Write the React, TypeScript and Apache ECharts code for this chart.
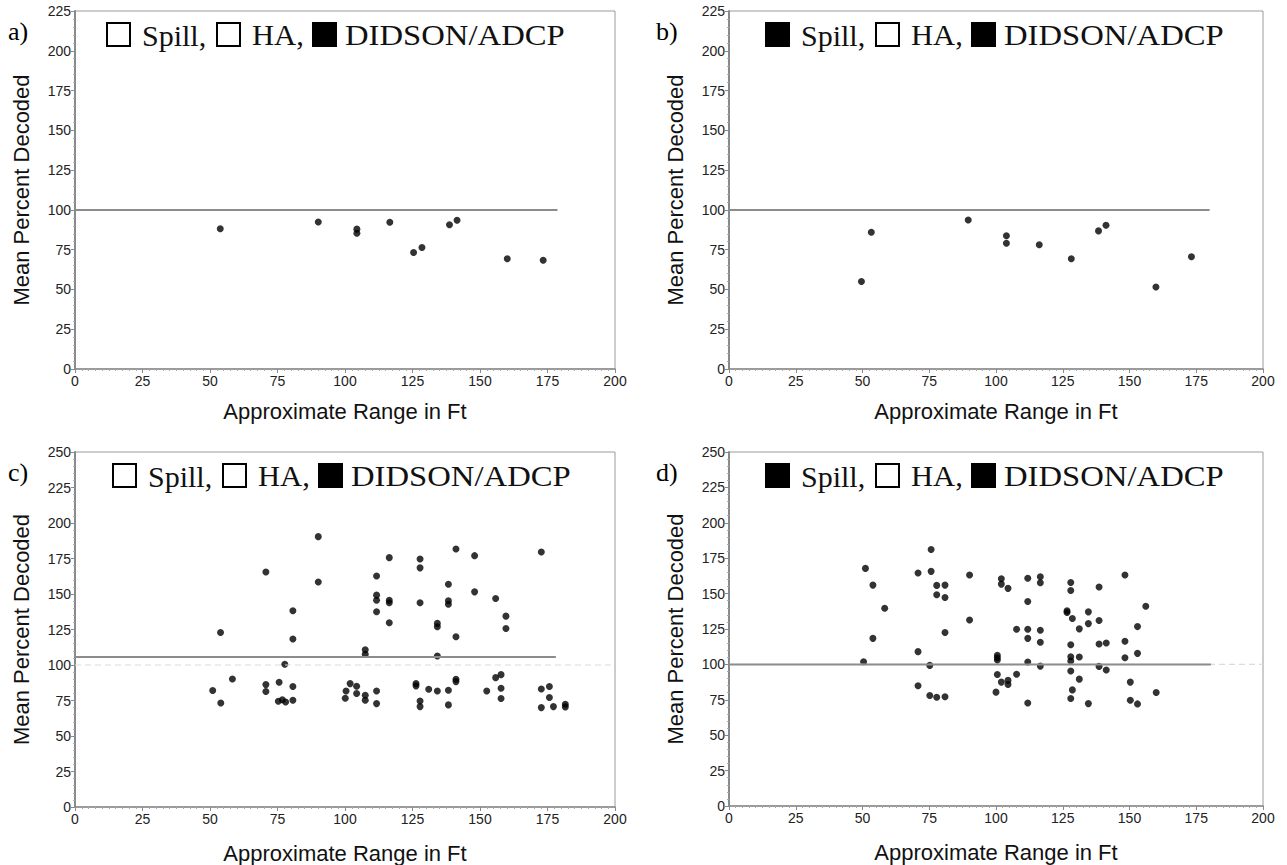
import React, { useEffect, useRef } from "react";
import * as echarts from "echarts";

// ---- Data (Approximate Range in Ft, Mean Percent Decoded) ----
const panelA: number[][] = [
  [53.8, 88.1], [90.1, 92.4], [104.4, 87.9], [104.4, 85.3], [116.6, 92.2],
  [125.4, 73.2], [128.5, 76.4], [138.7, 90.7], [141.5, 93.5], [160.1, 69.3], [173.4, 68.4],
];
const panelB: number[][] = [
  [49.6, 55.0], [53.3, 85.9], [89.6, 93.7], [103.9, 83.8], [103.9, 79.0], [116.2, 78.1],
  [128.2, 69.3], [138.4, 86.8], [141.2, 90.3], [159.9, 51.5], [173.2, 70.6],
];
const panelC: number[][] = [
  [90.1, 190.4], [70.7, 165.5], [90.1, 158.5], [80.7, 138.2], [53.9, 122.9], [80.7, 118.3],
  [77.7, 100.5], [58.3, 90.2], [51.0, 82.0], [54.0, 73.3], [70.7, 86.2], [70.7, 81.3],
  [75.6, 87.8], [80.7, 84.8], [80.7, 75.2], [75.3, 74.5], [76.8, 75.5], [78.0, 74.0],
  [100.1, 76.6], [100.4, 81.7], [101.9, 86.9], [104.3, 85.0], [104.3, 79.9], [107.5, 78.7],
  [107.5, 75.2], [107.5, 110.8], [107.5, 107.5], [111.7, 162.7], [111.7, 149.2], [111.7, 145.6],
  [111.7, 137.5], [111.7, 81.7], [111.7, 72.8], [116.4, 175.6], [116.4, 145.6], [116.4, 143.8],
  [116.4, 129.7], [126.3, 86.9], [126.3, 85.3], [127.8, 174.7], [127.8, 168.4], [127.8, 143.8],
  [127.8, 74.7], [127.8, 70.7], [131.0, 82.9], [134.2, 129.3], [134.2, 126.9], [134.2, 106.3],
  [134.2, 81.7], [138.3, 156.9], [138.3, 145.2], [138.3, 142.8], [138.3, 82.2], [138.3, 71.9],
  [141.1, 181.7], [141.1, 119.9], [141.1, 89.9], [141.1, 88.3], [148.0, 177.0], [148.0, 151.5],
  [152.5, 81.7], [155.8, 146.8], [155.8, 91.1], [157.8, 93.2], [157.8, 83.6], [157.8, 76.4],
  [159.6, 134.4], [159.6, 125.7], [172.7, 179.6], [172.7, 83.1], [172.7, 70.0], [175.7, 84.8],
  [175.7, 77.1], [177.2, 70.7], [181.6, 72.4], [181.6, 70.5],
];
const panelD: number[][] = [
  [75.7, 181.1], [51.1, 167.8], [70.8, 164.5], [75.7, 165.7], [90.1, 163.1], [53.9, 156.0],
  [77.8, 155.8], [80.9, 156.0], [77.8, 149.2], [80.9, 147.3], [58.3, 139.7], [90.1, 131.4],
  [80.9, 122.5], [53.9, 118.4], [70.8, 109.0], [50.4, 101.9], [75.2, 99.3], [70.8, 84.9],
  [75.2, 78.0], [77.8, 76.8], [80.9, 77.1],
  [102.0, 160.5], [102.0, 156.7], [104.5, 153.7], [111.9, 160.8], [116.6, 161.9], [116.6, 157.7],
  [111.9, 144.4], [107.7, 124.8], [111.9, 124.8], [116.6, 124.1], [111.9, 118.4], [116.6, 115.6],
  [100.5, 106.4], [100.5, 104.7], [100.5, 103.1], [111.9, 101.7], [116.6, 98.8], [100.5, 92.9],
  [107.7, 93.1], [102.0, 87.5], [104.5, 88.7], [104.5, 85.8], [100.0, 80.4], [111.9, 72.8],
  [128.0, 157.9], [128.0, 152.2], [126.6, 137.8], [126.6, 136.6], [128.6, 132.4], [134.6, 137.1],
  [131.2, 125.1], [134.6, 128.8], [138.6, 154.6], [138.6, 131.0], [128.0, 113.9], [138.6, 114.4],
  [141.3, 115.1], [128.0, 105.4], [128.0, 102.4], [131.2, 105.2], [128.0, 95.3], [138.6, 98.6],
  [141.3, 96.0], [131.2, 89.6], [128.6, 82.0], [128.0, 75.9], [134.6, 72.3], [148.3, 163.1],
  [156.1, 141.1], [153.0, 126.7], [148.3, 116.3], [153.0, 107.8], [148.3, 104.7], [150.3, 87.5],
  [160.0, 80.1], [150.3, 74.7], [153.0, 72.1],
];
// reference lines (solid) and light dashed 100% lines
const refA: number[][] = [[0, 100], [178.7, 100]];
const refB: number[][] = [[0, 100], [180, 100]];
const refC: number[][] = [[0, 105.6], [178.1, 105.6]];
const refD: number[][] = [[0, 100], [180.5, 100]];
const dash100: number[][] = [[0, 100], [200, 100]];

const yMaxTop = 225;
const yMaxBottom = 250;
const panelLabels = ["a)", "b)", "c)", "d)"];
// legend fill states: Spill, HA, DIDSON/ADCP
const legendFill: boolean[][] = [
  [false, false, true],
  [true, false, true],
  [false, false, true],
  [true, false, true],
];
const legendNames = ["Spill,", "HA,", "DIDSON/ADCP"];

const grids = [
  { left: 75, top: 11, width: 540, height: 358 },
  { left: 729, top: 11, width: 534, height: 358 },
  { left: 75, top: 452, width: 540, height: 355 },
  { left: 729, top: 452, width: 534, height: 354 },
];

export default function App() {
  const ref = useRef<HTMLDivElement>(null);
  useEffect(() => {
    if (!ref.current) return;
    const chart = echarts.init(ref.current, undefined, { renderer: "svg" });
    const sans = "Liberation Sans, Arial, sans-serif";
    const serif = "Liberation Serif, Times New Roman, serif";
    const axisColor = "#8a8a8a";

    const xAxis = grids.map((_, i) => ({
      gridIndex: i,
      type: "value",
      min: 0,
      max: 200,
      interval: 25,
      name: "Approximate Range in Ft",
      nameLocation: "middle",
      nameGap: i < 2 ? 31 : 35,
      nameTextStyle: { fontFamily: sans, fontSize: 22, color: "#111" },
      axisLine: { show: true, lineStyle: { color: axisColor, width: 1.5 } },
      axisTick: { show: true, length: 4, lineStyle: { color: axisColor } },
      minorTick: { show: true, splitNumber: 10, length: 2, lineStyle: { color: "#aaa" } },
      axisLabel: { fontFamily: sans, fontSize: 14, color: "#222", margin: 5 },
      splitLine: { show: false },
    }));
    const yAxis = grids.map((_, i) => ({
      gridIndex: i,
      type: "value",
      min: 0,
      max: i < 2 ? yMaxTop : yMaxBottom,
      interval: 25,
      name: "Mean Percent Decoded",
      nameLocation: "middle",
      nameGap: 43,
      nameTextStyle: { fontFamily: sans, fontSize: 22, color: "#111" },
      axisLine: { show: true, lineStyle: { color: axisColor, width: 2 } },
      axisTick: { show: true, length: 4, lineStyle: { color: axisColor } },
      minorTick: { show: true, splitNumber: 5, length: 2, lineStyle: { color: "#aaa" } },
      axisLabel: { fontFamily: sans, fontSize: 14, color: "#222", margin: 4 },
      splitLine: { show: false },
    }));

    const datas = [panelA, panelB, panelC, panelD];
    const refs = [refA, refB, refC, refD];
    const series: any[] = [];
    datas.forEach((d, i) => {
      if (i >= 2) {
        series.push({
          type: "line", xAxisIndex: i, yAxisIndex: i, data: dash100, showSymbol: false, silent: true,
          lineStyle: { color: "#dcdcdc", width: 1.2, type: [6, 4] },
        });
      }
      series.push({
        type: "line", xAxisIndex: i, yAxisIndex: i, data: refs[i], showSymbol: false, silent: true,
        lineStyle: { color: "#8c8c8c", width: 2 },
      });
      series.push({
        type: "scatter", xAxisIndex: i, yAxisIndex: i, data: d, symbol: "circle", symbolSize: 7,
        itemStyle: { color: "#000" },
      });
    });

    const graphic: any[] = [];
    const legendStart = [32, 37, 38, 37];
    grids.forEach((g, i) => {
      const cy = g.top + 23;
      const x0 = g.left + legendStart[i];
      const boxX = [x0, x0 + 110, x0 + 206];
      const textX = [x0 + 35, x0 + 145, x0 + 238];
      const sx = [1, 1.02, 1.09];
      legendFill[i].forEach((filled, k) => {
        graphic.push({
          type: "rect",
          shape: { x: boxX[k], y: cy - 11, width: 23, height: 23 },
          style: { fill: filled ? "#000" : "#fff", stroke: "#000", lineWidth: 2 },
        });
        graphic.push({
          type: "text",
          x: textX[k],
          y: cy + 1,
          scaleX: sx[k],
          style: {
            text: legendNames[k], font: `30px ${serif}`, fill: "#111",
            textVerticalAlign: "middle", textAlign: "left",
          },
        });
      });
      graphic.push({
        type: "text",
        x: i % 2 === 0 ? 8 : 656,
        y: g.top + 20,
        style: { text: panelLabels[i], font: `26px ${serif}`, fill: "#000", textVerticalAlign: "middle" },
      });
    });

    chart.setOption({
      animation: false,
      backgroundColor: "#fff",
      grid: grids.map((g) => ({ ...g, show: true, borderColor: "#9a9a9a", borderWidth: 1, backgroundColor: "transparent" })),
      xAxis,
      yAxis,
      series,
      graphic,
    } as any);
    return () => chart.dispose();
  }, []);
  return (
    <div
      ref={ref}
      style={{ position: "fixed", left: 0, top: 0, width: 1287, height: 865, background: "#fff" }}
    />
  );
}
